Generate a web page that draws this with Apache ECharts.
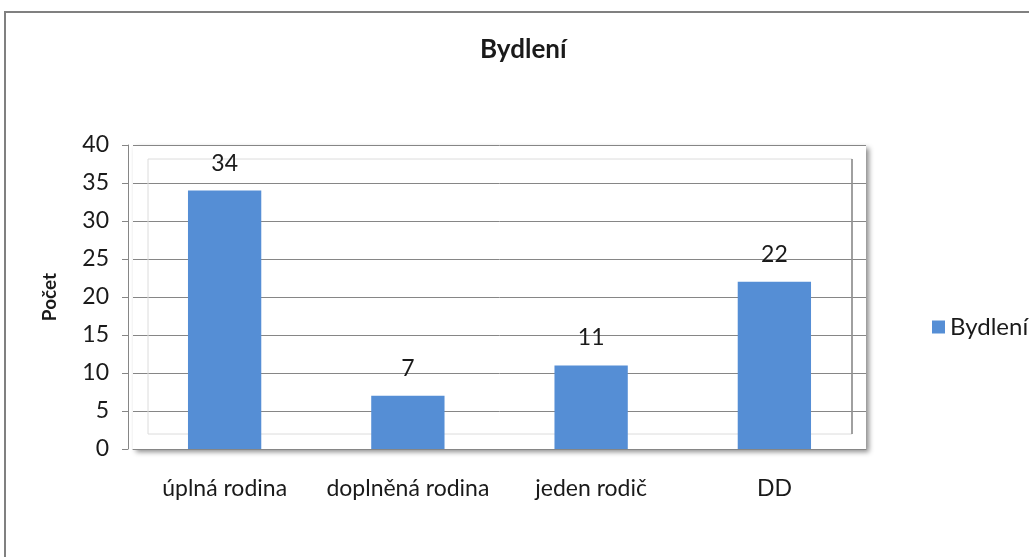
<!DOCTYPE html>
<html>
<head>
<meta http-equiv="Content-Type" content="text/html; charset=UTF-8">
<title>Bydlení</title>
<script type="text/javascript" src="https://cdn.jsdelivr.net/npm/echarts@6/dist/echarts.min.js"></script>
<style>
    html, body { margin: 0; padding: 0; background: #fff; }
</style>
</head>
<body>
    <div id="main" style="width: 1029px; height: 557px;"></div>
    <script type="text/javascript">
        // data
        var categories = ['úplná rodina', 'doplněná rodina', 'jeden rodič', 'DD'];
        var values = [34, 7, 11, 22];
        var seriesName = 'Bydlení';
        var yTicks = { min: 0, max: 40, step: 5 };

        var font = 'Lato, "Liberation Sans", sans-serif';
        var textColor = '#1a1a1a';
        var lineColor = '#868686';

        var myChart = echarts.init(document.getElementById('main'));
        myChart.setOption({
            animation: false,
            textStyle: { fontFamily: font },
            title: {
                text: 'Bydlení',
                left: 480,
                top: 37,
                padding: 0,
                textStyle: { fontFamily: font, fontSize: 26, fontWeight: 'bold', color: textColor }
            },
            legend: {
                orient: 'vertical',
                left: 927,
                top: 310,
                itemWidth: 13,
                itemHeight: 13,
                icon: 'rect',
                textStyle: { fontFamily: font, fontSize: 24, color: textColor },
                data: [seriesName]
            },
            // rámeček grafu a zadní stěna
            graphic: [
                {
                    type: 'rect', z: -10, silent: true,
                    shape: { x: 5, y: 12, width: 1100, height: 600 },
                    style: { fill: 'none', stroke: '#808080', lineWidth: 2 }
                },
                {
                    type: 'rect', z: 1, silent: true,
                    shape: { x: 148, y: 159, width: 704, height: 275 },
                    style: { fill: 'none', stroke: '#dcdcdc', lineWidth: 1 }
                },
                {
                    type: 'line', z: 1, silent: true,
                    shape: { x1: 852, y1: 159, x2: 852, y2: 434 },
                    style: { stroke: lineColor, lineWidth: 1.5 }
                }
            ],
            grid: {
                left: 133,
                right: 163,
                top: 145,
                bottom: 108,
                show: true,
                backgroundColor: '#fff',
                borderWidth: 0,
                shadowColor: 'rgba(0,0,0,0.45)',
                shadowBlur: 5,
                shadowOffsetX: 3,
                shadowOffsetY: 3
            },
            xAxis: {
                type: 'category',
                data: categories,
                axisLine: { show: true, lineStyle: { color: lineColor, width: 1 } },
                axisTick: { show: false },
                axisLabel: { interval: 0, margin: 28, fontSize: 23, color: textColor, fontFamily: font }
            },
            yAxis: {
                type: 'value',
                min: yTicks.min,
                max: yTicks.max,
                interval: yTicks.step,
                offset: 5,
                name: 'Počet',
                nameLocation: 'middle',
                nameRotate: 90,
                nameGap: 69,
                nameTextStyle: { fontFamily: font, fontSize: 19, fontWeight: 'bold', color: textColor },
                axisLine: { show: true, lineStyle: { color: lineColor, width: 1 } },
                axisTick: { show: true, length: 6, lineStyle: { color: lineColor } },
                axisLabel: { margin: 19, fontSize: 23, color: textColor, fontFamily: font },
                splitLine: { show: true, lineStyle: { color: lineColor, width: 1 } }
            },
            series: [{
                name: seriesName,
                type: 'bar',
                data: values,
                barWidth: '40%',
                itemStyle: { color: '#558ED5' },
                label: {
                    show: true,
                    position: 'top',
                    distance: 16,
                    fontSize: 23,
                    color: textColor,
                    fontFamily: font
                }
            }]
        });
    </script>
</body>
</html>
